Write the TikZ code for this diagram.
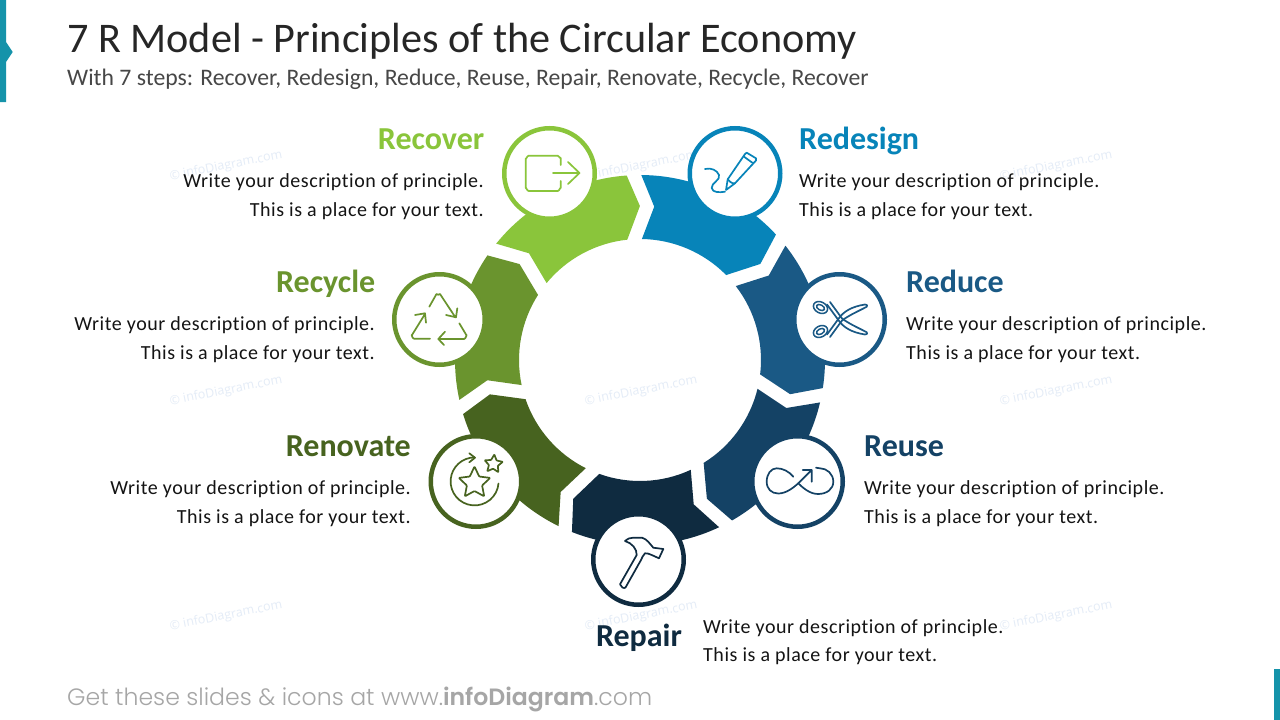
\documentclass[tikz,border=0pt]{standalone}
\usepackage{fontspec}
\setmainfont{Carlito}[Ligatures=NoCommon]
\newfontfamily\bodyfont{Carlito}[Ligatures=NoCommon,LetterSpace=2.7]
\newfontfamily\footfont{Poppins}[UprightFont=* Light,BoldFont=* SemiBold]
\newfontfamily\wmfont{Open Sans}
\definecolor{cRecover}{HTML}{8AC53B}
\definecolor{cRedesign}{HTML}{0784B9}
\definecolor{cReduce}{HTML}{1A5985}
\definecolor{cReuse}{HTML}{144265}
\definecolor{cRepair}{HTML}{0F2B40}
\definecolor{cRenovate}{HTML}{47631F}
\definecolor{cRecycle}{HTML}{6A942E}
\definecolor{cBar}{HTML}{1593AA}
\definecolor{cWm}{HTML}{E4ECF7}
\tikzset{
  badge/.style={circle,draw=#1,fill=white,line width=4.5pt,minimum size=90.5pt,inner sep=0pt},
  headl/.style={anchor=base east,inner sep=0pt,font=\fontsize{32}{32}\selectfont\bfseries,text=#1},
  headr/.style={anchor=base west,inner sep=0pt,font=\fontsize{32}{32}\selectfont\bfseries,text=#1},
  bodyl/.style={anchor=base east,inner sep=0pt,font=\bodyfont\fontsize{20}{20}\selectfont,text=black!92},
  bodyr/.style={anchor=base west,inner sep=0pt,font=\bodyfont\fontsize{20}{20}\selectfont,text=black!92},
  wm/.style={rotate=11,inner sep=0pt,text=cWm,font=\wmfont\fontsize{12.5}{12.5}\selectfont},
  ico/.style={draw=#1,line width=1.7pt,line cap=round,line join=round,fill=none},
}
\newcommand{\wseg}[2]{%
  \begin{scope}[rotate=#1]
  \fill[#2] (89.6:185) -- (84.7:154) -- (89.1:121)
    arc[start angle=89.1,end angle=44.6,radius=121pt]
    -- (38.6:154) -- (42.7:185)
    arc[start angle=42.7,end angle=89.6,radius=185pt] -- cycle;
  \end{scope}}
\begin{document}
\begin{tikzpicture}[x=1pt,y=-1pt]
\useasboundingbox (0,0) rectangle (1280,720);
\fill[white] (0,0) rectangle (1280,720);
% watermarks
\foreach \wx/\nm in {226/a,641/b,1056/c}{
  \foreach \wy/\mm in {166/a,391/b,616/c}{
    \node[wm] (wm\nm\mm) at (\wx,\wy) {© infoDiagram.com};
  }
}
% bars
\fill[cBar] (0,0) -- (6,0) -- (6,42) -- (12.7,52) -- (6,62) -- (6,102) -- (0,102) -- cycle;
\fill[cBar] (1274,669) rectangle (1280,720);
% titles
\node[anchor=base west,inner sep=0pt,font=\fontsize{42.2}{42.2}\selectfont,text=black!85] (title) at (67,52) {7 R Model - Principles of the Circular Economy};
\node[anchor=base west,inner sep=0pt,font=\fontsize{23.7}{23.7}\selectfont,text=black!72] (subtitle) at (67,85) {With 7 steps: Recover, Redesign, Reduce, Reuse, Repair, Renovate, Recycle, Recover};
% wheel
\begin{scope}[x=1pt,y=1pt,shift={(640,-360)}]
\wseg{0}{cRedesign}
\wseg{-51.43}{cReduce}
\wseg{-102.86}{cReuse}
\wseg{-154.29}{cRepair}
\wseg{-205.71}{cRenovate}
\wseg{-257.14}{cRecycle}
\wseg{51.43}{cRecover}
\end{scope}
% badges
\node[badge=cRecover] (bRecover) at (549.5,173.5) {};
\node[badge=cRedesign] (bRedesign) at (735,173.5) {};
\node[badge=cReduce] (bReduce) at (839.5,319.5) {};
\node[badge=cReuse] (bReuse) at (797.5,481.5) {};
\node[badge=cRepair] (bRepair) at (638.5,559.5) {};
\node[badge=cRenovate] (bRenovate) at (476,481.5) {};
\node[badge=cRecycle] (bRecycle) at (439.5,319.5) {};
% icon: recover
\draw[ico=cRecover] (560.7,165) -- (560.7,158) to[out=-90,in=0] (557.7,155.7) -- (528.7,155.7) to[out=180,in=-90] (525.7,158.7) -- (525.7,188) to[out=90,in=180] (528.7,191) -- (557.7,191) to[out=0,in=90] (560.7,188) -- (560.7,181);
\draw[ico=cRecover] (553,173) -- (579.5,173) (568,162) -- (579.5,173) -- (568,184);
% icon: redesign
\draw[ico=cRedesign] (746.7,152.7) -- (756,158.3) -- (756,160.5) -- (735,183.3) -- (726,190) -- (727.7,179.3) -- (745,154) -- cycle;
\draw[ico=cRedesign] (744,156.7) -- (752.3,162.7);
\draw[ico=cRedesign] (727.7,179.3) -- (730,181.7) -- (732.7,183.3) -- (735,183.3);
\draw[ico=cRedesign] (705,169) .. controls (711,167.5) and (717,170) .. (719,175) .. controls (721,180) and (711,183) .. (711.7,188) .. controls (712.5,193) and (720,192.5) .. (725,191.7);
% icon: reduce
\foreach \sgn in {1,-1}{
  \begin{scope}[yshift=-319.5pt,yscale=\sgn]
  \draw[ico=cReduce,line width=1.5pt,rotate around={28:(820.5,12)}] (820.5,12) ellipse[x radius=7.5pt,y radius=5.5pt];
  \draw[ico=cReduce,line width=1.5pt,rotate around={28:(820.5,12)}] (820.5,12) ellipse[x radius=4.3pt,y radius=2.6pt];
  \draw[ico=cReduce] (827,15) -- (838,0) .. controls (843,-8) and (852,-13) .. (865,-15) .. controls (867,-15) and (868,-14) .. (866.7,-12.8) .. controls (862,-10) and (850,-5) .. (842,1) -- (830,17.5);
  \end{scope}
}
% icon: reuse
\draw[ico=cReuse] (793.3,476.7) .. controls (789,471.5) and (783,468.3) .. (776.7,468.3) .. controls (771,468.3) and (766.7,474) .. (766.7,481.7) .. controls (766.7,489) and (771.5,493.5) .. (778.3,493.5) .. controls (786,493.5) and (793,488) .. (798.3,483.3) .. controls (803,488) and (810,494) .. (818,494) .. controls (827,494) and (833.3,489) .. (833.3,481.7) .. controls (833.3,474) and (827,468.3) .. (820,468.3) -- (816,467.7);
\draw[ico=cReuse] (798.3,483.3) -- (811.7,470) (802.7,470) -- (811.7,470) -- (811.7,481.7);
% icon: repair
\draw[ico=cRepair] (625,541) .. controls (628,538.5) and (630,537.7) .. (633.3,537.7) -- (642,537.7) .. controls (647,539) and (650,544) .. (653.3,547.7) -- (663.3,549) -- (659,558.3) -- (651.7,555) .. controls (648,553.5) and (646.5,553) .. (645,553.3) .. controls (643,555) and (642,558) .. (641,560) -- (625.5,587.5) .. controls (624,589) and (620.5,587) .. (620,584.3) -- (636.7,555) .. controls (637,549) and (632,543) .. (625,541);
% icon: renovate
\draw[ico=cRenovate] (498.5,483.5) arc[start angle=5,end angle=270,radius=24pt,y radius=-24pt];
\draw[ico=cRenovate] (469.3,453.3) -- (475,457.7) -- (469.3,462.3);
\begin{scope}[x=1pt,y=1pt,shift={(474.5,-483)}]
\draw[ico=cRenovate,rounded corners=0.8pt] (90:16.5) -- (126:8) -- (162:16.5) -- (198:8) -- (234:16.5) -- (270:8) -- (306:16.5) -- (342:8) -- (18:16.5) -- (54:8) -- cycle;
\end{scope}
\begin{scope}[x=1pt,y=1pt,shift={(493.5,-464)}]
\draw[ico=cRenovate,rounded corners=0.5pt] (85:9.5) -- (121:4.7) -- (157:9.5) -- (193:4.7) -- (229:9.5) -- (265:4.7) -- (301:9.5) -- (337:4.7) -- (13:9.5) -- (49:4.7) -- cycle;
\end{scope}
% icon: recycle
\draw[ico=cRecycle] (429.3,306.7) -- (436.5,294) to[out=-50,in=-130] (440,294) -- (455,316.7) (446,315) -- (456,317.3) -- (457.3,308.3);
\draw[ico=cRecycle] (459.3,323.3) -- (466.3,335) to[out=60,in=0] (464,339) -- (438.3,339) (445,331.7) -- (438.3,339) -- (444,345);
\draw[ico=cRecycle] (430,338.7) -- (414,338.7) to[out=180,in=120] (412,335) -- (425,314) (415,315) -- (425,313.3) -- (426,322.7);
% texts: headings
\node[headl=cRecover] (hRecover) at (484.5,149) {Recover};
\node[headr=cRedesign] (hRedesign) at (799,149) {Redesign};
\node[headr=cReduce] (hReduce) at (906,292) {Reduce};
\node[headr=cReuse] (hReuse) at (864,456) {Reuse};
\node[anchor=base,inner sep=0pt,font=\fontsize{32}{32}\selectfont\bfseries,text=cRepair] (hRepair) at (639,646.5) {Repair};
\node[headl=cRenovate] (hRenovate) at (411,456) {Renovate};
\node[headl=cRecycle] (hRecycle) at (375.5,292) {Recycle};
% texts: bodies
\node[bodyl] (t1a) at (484,187) {Write your description of principle.};
\node[bodyl] (t1b) at (484,216) {This is a place for your text.};
\node[bodyr] (t2a) at (799,187) {Write your description of principle.};
\node[bodyr] (t2b) at (799,216) {This is a place for your text.};
\node[bodyr] (t3a) at (906,330) {Write your description of principle.};
\node[bodyr] (t3b) at (906,359) {This is a place for your text.};
\node[bodyr] (t4a) at (864,494) {Write your description of principle.};
\node[bodyr] (t4b) at (864,523) {This is a place for your text.};
\node[bodyr] (t5a) at (703,633) {Write your description of principle.};
\node[bodyr] (t5b) at (703,661) {This is a place for your text.};
\node[bodyl] (t6a) at (411,494) {Write your description of principle.};
\node[bodyl] (t6b) at (411,523) {This is a place for your text.};
\node[bodyl] (t7a) at (375,330) {Write your description of principle.};
\node[bodyl] (t7b) at (375,359) {This is a place for your text.};
% footer
\node[anchor=base west,inner sep=0pt,font=\footfont\fontsize{23.6}{23.6}\selectfont,text=black!35] (footer) at (67,705) {Get these slides \& icons at www.\textbf{infoDiagram}.com};
\end{tikzpicture}
\end{document}
